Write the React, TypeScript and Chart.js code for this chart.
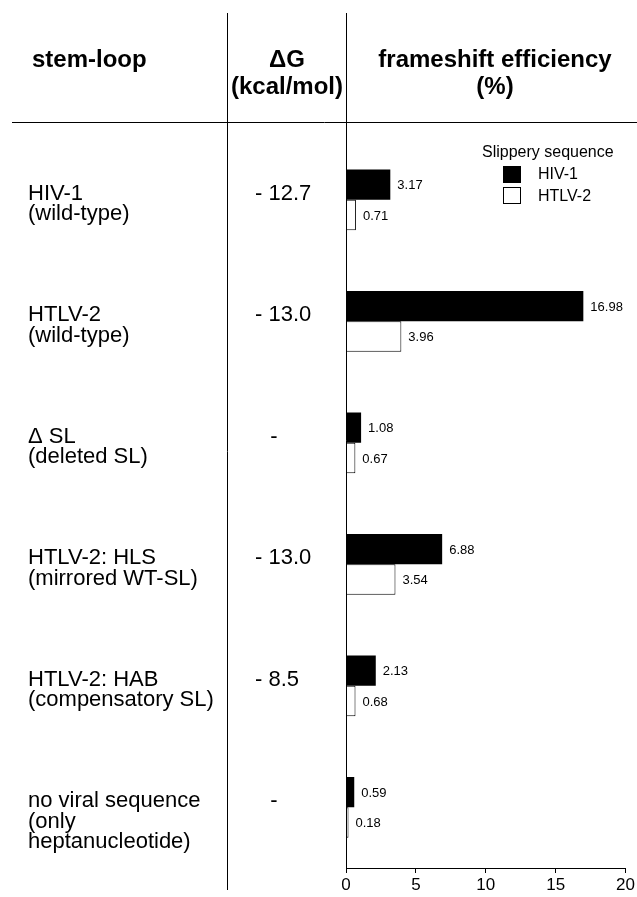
import React, { useEffect, useRef } from "react";
import { Chart, registerables } from "chart.js";

Chart.register(...registerables);

const stemLoops: string[][] = [
  ["HIV-1", "(wild-type)"],
  ["HTLV-2", "(wild-type)"],
  ["Δ SL", "(deleted SL)"],
  ["HTLV-2: HLS", "(mirrored WT-SL)"],
  ["HTLV-2: HAB", "(compensatory SL)"],
  ["no viral sequence", "(only", "heptanucleotide)"],
];
const deltaG = ["- 12.7", "- 13.0", "-", "- 13.0", "- 8.5", "-"];
const hiv1 = [3.17, 16.98, 1.08, 6.88, 2.13, 0.59];
const htlv2 = [0.71, 3.96, 0.67, 3.54, 0.68, 0.18];
const seriesNames = ["HIV-1", "HTLV-2"];
const legendTitle = "Slippery sequence";
const headerStem = "stem-loop";
const headerDG = ["ΔG", "(kcal/mol)"];
const headerFS = ["frameshift efficiency", "(%)"];
const xMin = 0;
const xMax = 20;
const xStep = 5;

const FONT = '"Liberation Sans", Arial, Helvetica, sans-serif';

const tablePlugin = {
  id: "tablePlugin",
  afterDraw(chart: any) {
    const ctx = chart.ctx as CanvasRenderingContext2D;
    const area = chart.chartArea;
    const yScale = chart.scales.y;
    ctx.save();
    ctx.fillStyle = "#000";
    ctx.strokeStyle = "#000";

    // grid lines of table
    ctx.lineWidth = 1;
    ctx.beginPath();
    ctx.moveTo(12, 122.5);
    ctx.lineTo(637, 122.5);
    ctx.moveTo(227.5, 13);
    ctx.lineTo(227.5, 890);
    ctx.moveTo(Math.round(area.left) + 0.5, 13);
    ctx.lineTo(Math.round(area.left) + 0.5, area.bottom);
    ctx.stroke();

    // headers
    ctx.font = `bold 24px ${FONT}`;
    ctx.textBaseline = "alphabetic";
    ctx.textAlign = "left";
    ctx.fillText(headerStem, 32, 67);
    ctx.textAlign = "center";
    ctx.fillText(headerDG[0], 287, 67);
    ctx.fillText(headerDG[1], 287, 94);
    ctx.fillText(headerFS[0], 495, 67);
    ctx.fillText(headerFS[1], 495, 94);

    // rows
    ctx.font = `22px ${FONT}`;
    stemLoops.forEach((lines, i) => {
      const cy = yScale.getPixelForValue(i);
      ctx.textAlign = "left";
      lines.forEach((ln, j) => {
        ctx.fillText(ln, 28, cy + j * 20.5);
      });
      const g = deltaG[i];
      if (g === "-") {
        ctx.textAlign = "center";
        ctx.fillText(g, 274, cy);
      } else {
        ctx.textAlign = "left";
        ctx.fillText(g, 255, cy);
      }
    });

    // value labels
    ctx.font = `13px ${FONT}`;
    ctx.textAlign = "left";
    ctx.textBaseline = "middle";
    chart.data.datasets.forEach((ds: any, di: number) => {
      const meta = chart.getDatasetMeta(di);
      meta.data.forEach((el: any, i: number) => {
        ctx.fillText(ds.data[i].toFixed(2), el.x + 7, el.y + 1);
      });
    });

    // legend
    ctx.textBaseline = "alphabetic";
    ctx.font = `16px ${FONT}`;
    ctx.fillText(legendTitle, 482, 157);
    ctx.fillRect(503, 166, 18, 17);
    ctx.strokeRect(503.5, 187.5, 17, 16);
    ctx.fillText(seriesNames[0], 538, 179);
    ctx.fillText(seriesNames[1], 538, 201);
    ctx.restore();
  },
};

export default function App() {
  const ref = useRef<HTMLCanvasElement | null>(null);
  useEffect(() => {
    if (!ref.current) return;
    const chart = new Chart(ref.current, {
      type: "bar",
      data: {
        labels: stemLoops.map((l) => l.join(" ")),
        datasets: [
          {
            label: seriesNames[0],
            data: hiv1,
            backgroundColor: "#000",
            borderColor: "#000",
            borderWidth: 0,
          },
          {
            label: seriesNames[1],
            data: htlv2,
            backgroundColor: "#fff",
            borderColor: "#000",
            borderWidth: 1,
          },
        ],
      },
      options: {
        indexAxis: "y",
        responsive: false,
        animation: false,
        devicePixelRatio: 1,
        datasets: { bar: { categoryPercentage: 0.5, barPercentage: 1.0 } },
        layout: { padding: { left: 346, right: 9, top: 139, bottom: 0 } },
        plugins: { legend: { display: false }, tooltip: { enabled: false } },
        scales: {
          y: { display: false },
          x: {
            type: "linear",
            min: xMin,
            max: xMax,
            afterFit: (s: any) => {
              s.height = 29;
            },
            grid: {
              display: true,
              drawOnChartArea: false,
              drawTicks: true,
              tickLength: 5,
              color: "#000",
            },
            border: { display: true, color: "#000", width: 1 },
            ticks: {
              stepSize: xStep,
              color: "#000",
              padding: 2,
              font: { family: FONT, size: 17 },
            },
          },
        },
      },
      plugins: [tablePlugin],
    } as any);
    return () => chart.destroy();
  }, []);
  return (
    <div style={{ position: "fixed", left: 0, top: 0, width: 637, height: 897, background: "#fff" }}>
      <canvas ref={ref} width={637} height={897} style={{ display: "block" }} />
    </div>
  );
}
